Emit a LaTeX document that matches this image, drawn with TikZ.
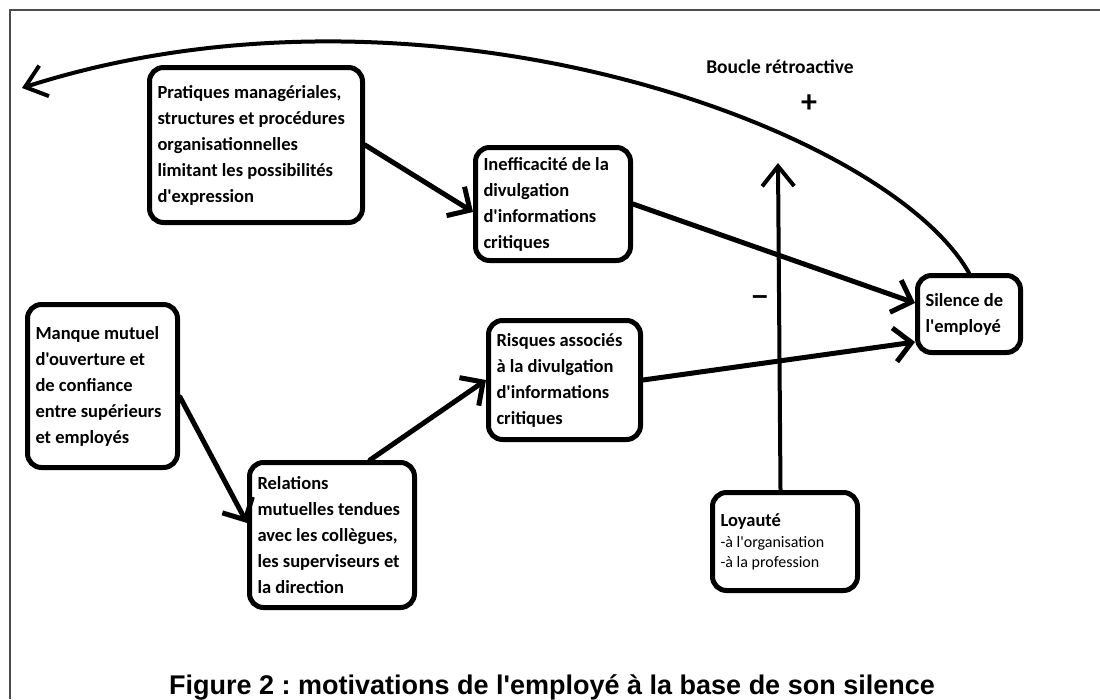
\documentclass[tikz,border=0pt]{standalone}
\usepackage{fontspec}
\newfontfamily\calib{Carlito}
\newfontfamily\capfont{Liberation Sans}
\usetikzlibrary{arrows.meta}
\frenchspacing
\begin{document}
\begin{tikzpicture}[x=1pt,y=-1pt,
  box/.style={draw, line width=5pt, rounded corners=14pt, anchor=north west,
    align=flush left, inner xsep=8pt, inner ysep=4pt,
    font=\calib\bfseries\fontsize{18.5}{26}\selectfont},
  conn/.style={line width=5pt, line cap=round, -{Straight Barb[length=17pt,width=34pt]}},
  thinconn/.style={line width=4pt, line cap=round, -{Straight Barb[length=20pt,width=32pt]}},
  lbl/.style={font=\calib\bfseries\fontsize{19.5}{22}\selectfont}
]
\fill[white] (0,0) rectangle (1100,699);
\useasboundingbox (0,0) rectangle (1100,699);
\draw[gray!60!black, line width=1.5pt] (10,699) -- (10,10) -- (1100,10);

\node[box, minimum width=213pt, minimum height=155pt, text width=197pt] (prat) at (147,65)
  {Pratiques managériales,\\structures et procédures\\organisationnelles\\limitant les possibilités\\d'expression};
\node[box, minimum width=155pt, minimum height=113pt, text width=139pt] (inef) at (473,145)
  {Inefficacité de la\\divulgation\\d'informations\\critiques};
\node[box, minimum width=103pt, minimum height=77pt, text width=87pt] (sil) at (915,273)
  {Silence de\\l'employé};
\node[box, minimum width=150pt, minimum height=163pt, text width=134pt] (manq) at (25,302)
  {Manque mutuel\\d'ouverture et\\de confiance\\entre supérieurs\\et employés};
\node[box, minimum width=152pt, minimum height=119pt, text width=136pt] (risk) at (486,318)
  {Risques associés\\à la divulgation\\d'informations\\critiques};
\node[box, minimum width=165pt, minimum height=145pt, text width=149pt] (rel) at (247,460)
  {Relations\\mutuelles tendues\\avec les collègues,\\les superviseurs et\\la direction};
\node[box, minimum width=145pt, minimum height=98pt, text width=129pt] (loy) at (710,490)
  {{\fontsize{18.5}{22}\selectfont Loyauté\par}\vspace{1pt}
   {\mdseries\fontsize{16}{20}\selectfont -à l'organisation\\-à la profession\par}};

\node[lbl] (boucle) at (780,67) {Boucle rétroactive};
\node[font=\calib\bfseries\fontsize{32}{32}\selectfont] (plus) at (809,104) {+};
\node[font=\capfont\bfseries\fontsize{28}{28}\selectfont] (minus) at (760,300) {–};

\coordinate (lend) at (22,88);
\coordinate (lytip) at (778,163);

\draw[conn] (prat.east) -- ([yshift=-8pt]inef.west);
\draw[conn] (inef.east) -- ([yshift=11pt]sil.west);
\draw[conn] (risk.east) -- ([yshift=-28pt]sil.west);
\draw[conn] ([yshift=-11pt]manq.east) -- ([yshift=12pt]rel.west);
\draw[conn] ([xshift=38pt]rel.north) -- (risk.west);
\draw[thinconn] ([xshift=-4.5pt]loy.north) -- (lytip);
\draw[thinconn] (sil.north) .. controls (885,125) and (420,-40) .. (lend);

\node[font=\capfont\bfseries\fontsize{27}{30}\selectfont, anchor=base] (cap) at (552,694)
  {Figure 2 : motivations de l'employé à la base de son silence};
\end{tikzpicture}
\end{document}
